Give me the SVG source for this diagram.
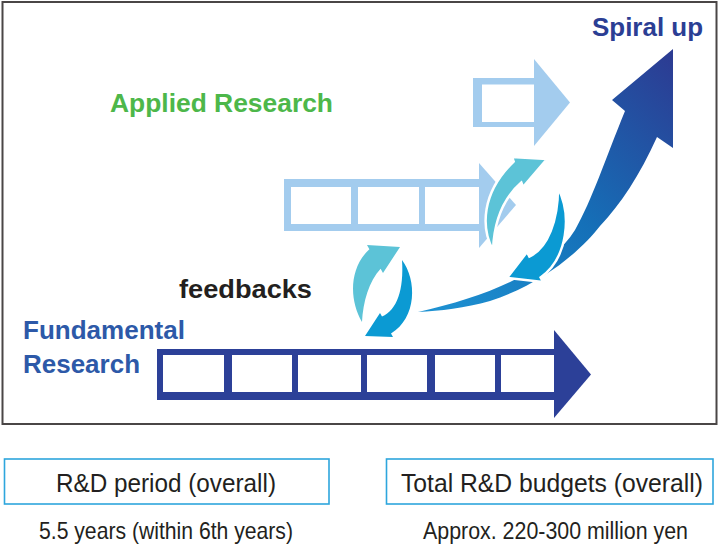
<svg xmlns="http://www.w3.org/2000/svg" width="719" height="550" viewBox="0 0 719 550">
<style>
.bold{font-family:"Liberation Sans",Arial,sans-serif;font-weight:bold;font-size:26px}
.reg{font-family:"Liberation Sans",Arial,sans-serif;font-size:26px;fill:#231f20}
.sub{font-family:"Liberation Sans",Arial,sans-serif;font-size:24px;fill:#231f20}
.light{fill:#a3ccee}
.dark{fill:#2c4098}
.cell{fill:#fff}
.box{fill:none;stroke:#2da6dd;stroke-width:1.6}
.cyan{fill:#5cc3d7}
.blue{fill:#0b9ad3}
.outl{stroke:#fff;stroke-width:2.5;stroke-linejoin:miter}
</style>
<defs>
<linearGradient id="spiralGrad" gradientUnits="userSpaceOnUse" x1="420" y1="312" x2="673" y2="60">
<stop offset="0" stop-color="#1e93d3"/>
<stop offset="0.5" stop-color="#1570b8"/>
<stop offset="1" stop-color="#2c3c93"/>
</linearGradient>
</defs>
<rect width="719" height="550" fill="#fff"/>
<rect id="frame" x="2.5" y="2" width="714" height="422" fill="none" stroke="#4a4646" stroke-width="2"/>

<g id="applied-top-bar">
<rect class="light" x="473" y="78" width="62" height="49"/>
<polygon class="light" points="534,59 570,102.5 534,146"/>
<rect class="cell" x="482" y="84.5" width="52" height="37.5"/>
</g>

<g id="applied-mid-bar">
<rect class="light" x="284" y="179" width="196" height="52"/>
<polygon class="light" points="479,163 516,205 479,248"/>
<rect class="cell" x="291" y="187" width="60" height="37"/>
<rect class="cell" x="358" y="187" width="61" height="37"/>
<rect class="cell" x="425" y="187" width="54" height="37"/>
</g>

<g id="fundamental-bar">
<rect class="dark" x="157" y="349" width="398" height="51"/>
<polygon class="dark" points="554,330 591,374.5 554,418"/>
<rect class="cell" x="163" y="355" width="61" height="37"/>
<rect class="cell" x="232" y="355" width="60" height="37"/>
<rect class="cell" x="298" y="355" width="63" height="37"/>
<rect class="cell" x="367" y="355" width="60" height="37"/>
<rect class="cell" x="435" y="355" width="60" height="37"/>
<rect class="cell" x="501" y="355" width="53" height="37"/>
</g>

<g id="connectors">
<path id="spiral-up-arrow" fill="url(#spiralGrad)" d="M418 312 C490 296 550 270 575 230 C592 200 605 160 625 111 L612 100 L673 49 L673 148 L657 137 C640 175 620 205 600 226 C580 252 540 285 490 301 C465 308 440 311 418 312 Z"/>
<path id="fb-upper-down" class="blue outl" d="M558 188 C572 215 568 258 540.6 277.5 L543 282 L507 278 L527 252 L529.4 256.5 C548 248 558 220 558 188 Z"/>
<path id="fb-upper-up" class="cyan outl" d="M493 250 C481 228 481 193 513.65 161.5 L512 157 L547 159 L523 187 L521.35 182.5 C501 200 494 225 493 250 Z"/>
<path id="fb-lower-up" class="cyan" d="M362 322 C349 300 349 268 369.4 249.2 L367 245 L400 247 L383 273 L380.6 268.8 C369 281 363 302 362 322 Z"/>
<path id="fb-lower-down" class="blue" d="M402 260 C417 280 417 318 391 333.4 L393 337 L365 336 L380 313 L382 316.6 C397 310 404 290 402 260 Z"/>
</g>

<g id="label-spiral"><text class="bold" x="592" y="36" fill="#2b3e94" textLength="111" lengthAdjust="spacingAndGlyphs">Spiral up</text></g>
<g id="label-applied"><text class="bold" x="110" y="112" fill="#4db74a" textLength="223" lengthAdjust="spacingAndGlyphs">Applied Research</text></g>
<g id="label-feedbacks"><text class="bold" x="179" y="298" fill="#231f20" style="font-size:25px" textLength="133" lengthAdjust="spacingAndGlyphs">feedbacks</text></g>
<g id="label-fundamental">
<text class="bold" x="23" y="339" fill="#2d59a8" textLength="162" lengthAdjust="spacingAndGlyphs">Fundamental</text>
<text class="bold" x="23" y="373" fill="#2d59a8" textLength="117" lengthAdjust="spacingAndGlyphs">Research</text>
</g>

<g id="period-box">
<rect class="box" x="4.5" y="459" width="324.5" height="45"/>
<text class="reg" x="56" y="492" textLength="220" lengthAdjust="spacingAndGlyphs">R&amp;D period (overall)</text>
<text class="sub" x="39" y="539" textLength="254" lengthAdjust="spacingAndGlyphs">5.5 years (within 6th years)</text>
</g>
<g id="budget-box">
<rect class="box" x="386.5" y="459" width="326.5" height="45"/>
<text class="reg" x="401" y="492" textLength="302" lengthAdjust="spacingAndGlyphs">Total R&amp;D budgets (overall)</text>
<text class="sub" x="423" y="539" font-size="23" style="font-size:23px" textLength="265" lengthAdjust="spacingAndGlyphs">Approx. 220-300 million yen</text>
</g>
</svg>
